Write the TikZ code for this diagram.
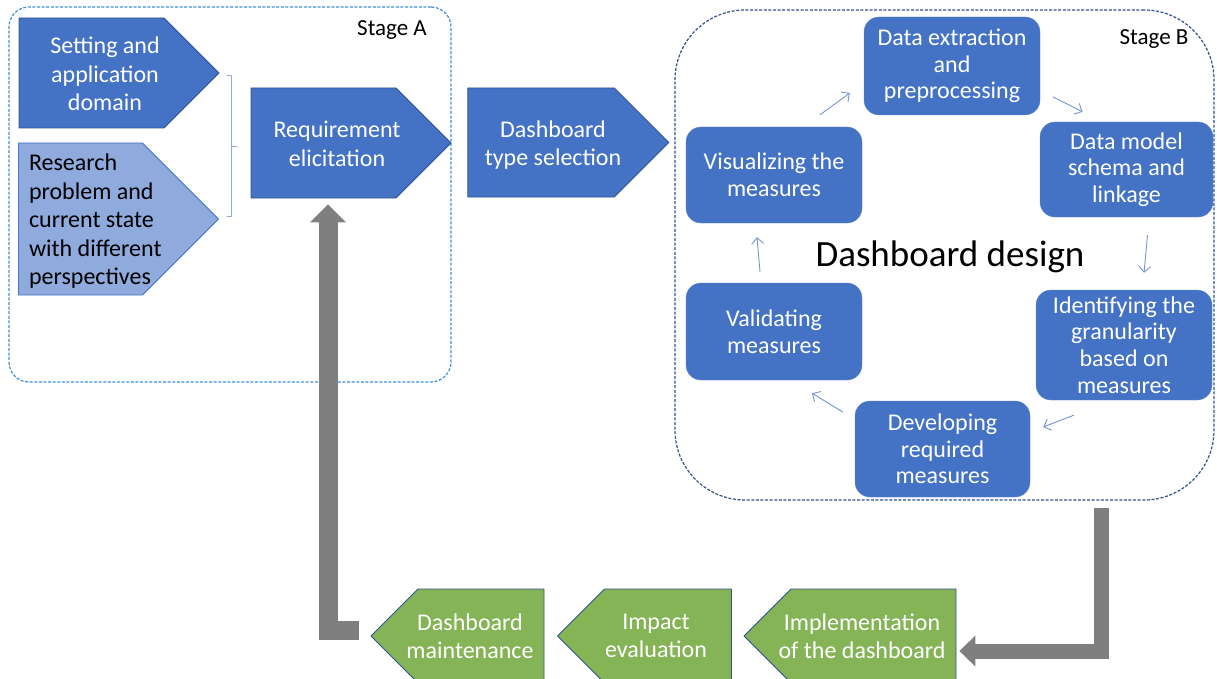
\documentclass[tikz,border=0pt]{standalone}
\usepackage{fontspec}
\setmainfont{Carlito}
\usetikzlibrary{shapes.symbols,arrows.meta}
\definecolor{blu}{HTML}{4472C4}
\definecolor{bdr}{HTML}{2F528F}
\definecolor{lblu}{HTML}{8FAADC}
\definecolor{grn}{HTML}{85B456}
\definecolor{gry}{HTML}{7F7F7F}
\definecolor{dsh}{HTML}{3F8FD8}
\begin{document}
\begin{tikzpicture}[x=1pt, y=-1pt, line join=round, line cap=round, font=\fontsize{24}{28.5}\selectfont]
	\tikzset{
		arr/.style={shape=signal, signal pointer angle=90, draw=bdr, line width=0.8, inner sep=0pt},
		txt/.style={text=white, align=center, inner sep=0pt},
		box/.style={rectangle, rounded corners=15, fill=blu, draw=blu!85!white, text=white, align=center, font=\fontsize{24}{26.6}\selectfont, inner sep=0pt},
		stage/.style={rectangle, line width=1.2, dash pattern=on 3pt off 1.6pt, line cap=butt},
		cyc/.style={blu!75!white, line width=0.9, -{Straight Barb[length=6pt,width=12pt]}},
		big/.style={gry, line join=miter, line cap=butt}
	}
	\useasboundingbox (0,0) rectangle (1217,679);
	\node[stage, draw=dsh, rounded corners=20, minimum width=442, minimum height=375] (stA) at (230,194.5) {};
	\node[stage, draw=bdr, rounded corners=70, minimum width=539, minimum height=490] (stB) at (944.5,255) {};
	\node[font=\fontsize{23}{27}\selectfont] (labA) at (392,30) {Stage A};
	\node[font=\fontsize{23}{27}\selectfont] (labB) at (1154,39) {Stage B};
	\node[font=\fontsize{37}{44}\selectfont] (dd) at (950,257) {Dashboard design};
	% stage A
	\node[arr, signal to=east, fill=blu, minimum width=200, minimum height=110, label={[txt, xshift=13.5, yshift=-1]center:Setting and\\application\\domain}] (set) at (91.5,73) {};
	\node[arr, signal to=east, fill=lblu, draw=blu, minimum width=200, minimum height=152, label={[txt, text=black, align=flush left, text width=140, xshift=18.5, yshift=-2.5]center:Research\\problem and\\current state\\with different\\perspectives}] (res) at (80.5,219) {};
	\draw[lblu, line width=1] (227,76) -- (231.5,76) -- (231.5,216) -- (227,216) (231.5,146.5) -- (237,146.5);
	\node[arr, signal to=east, fill=blu, minimum width=200, minimum height=110, label={[txt, xshift=13.5, yshift=-1]center:Requirement\\elicitation}] (req) at (323.5,143) {};
	\node[arr, signal to=east, fill=blu, minimum width=201, minimum height=109, label={[txt, xshift=12, yshift=-2.5]center:Dashboard\\type selection}] (dts) at (541,142.5) {};
	% stage B
	\foreach \n/\x/\y/\w/\h/\tx in {ext/952/66/176/98/{Data extraction\\and\\preprocessing}, vis/774/175/176/96/{Visualizing the\\measures}, dm/1126.5/169.5/173/95/{Data model\\schema and\\linkage}, val/774/331.5/176/97/{Validating\\measures}, idf/1124/345/176/110/{Identifying the\\granularity\\based on\\measures}, dev/942.5/449/175/96/{Developing\\required\\measures}}
		\node[box, minimum width=\w, minimum height=\h] (\n) at (\x,\y) {\tx};
	\draw[cyc] ([shift={(46,-12)}]vis.north) -- ([shift={(-14,27)}]ext.west);
	\draw[cyc] ([shift={(13,31)}]ext.east) -- ([shift={(-44,-10)}]dm.north);
	\draw[cyc] ([shift={(21,18)}]dm.south) -- ([shift={(20,-17)}]idf.north);
	\draw[cyc] ([shift={(38,15)}]idf.south west) -- ([shift={(13,-22)}]dev.east);
	\draw[cyc] ([shift={(-12,-37)}]dev.west) -- ([shift={(38,13)}]val.south);
	\draw[cyc] ([shift={(-14,-11)}]val.north) -- ([shift={(-17,14)}]vis.south);
	% after design
	\foreach \n/\x/\w/\s/\tx in {maint/481/173/-11/{Dashboard\\maintenance}, imp/668/174/-12/{Impact\\evaluation}, impl/873.5/212/-11.5/{Implementation\\of the dashboard}}
		\node[arr, signal to=west, fill=grn, minimum width=\w, minimum height=94, label={[txt, xshift=\s]center:\tx}] (\n) at (\x,636) {};
	\draw[big, line width=15, -{Triangle[length=16pt,width=30pt]}] ([shift={(156.5,7)}]stB.south) |- ([shift={(3,15)}]impl.east);
	\draw[big, line width=19, -{Triangle[length=18pt,width=35pt]}] ([shift={(-11,-6)}]maint.west) -| ([shift={(4.5,6)}]req.south);
\end{tikzpicture}
\end{document}
